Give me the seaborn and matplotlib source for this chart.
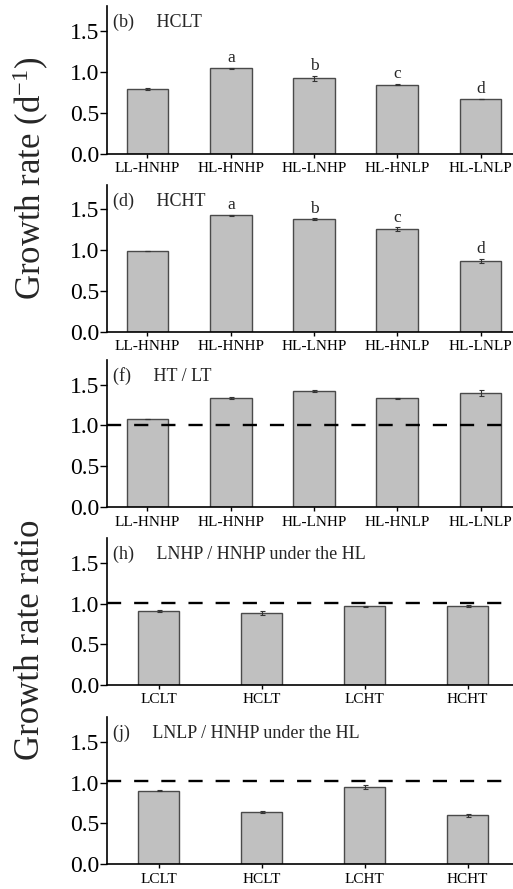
import matplotlib
matplotlib.use("Agg")
import matplotlib.pyplot as plt
import seaborn as sns
import pandas as pd

sns.set_style("ticks")
plt.rcParams["font.family"] = ["Liberation Serif", "DejaVu Serif"]
plt.rcParams["mathtext.fontset"] = "custom"
plt.rcParams["mathtext.rm"] = "Liberation Serif"
plt.rcParams["mathtext.it"] = "Liberation Serif:italic"

# Treatment groups
treatments = ["LL-HNHP", "HL-HNHP", "HL-LNHP", "HL-HNLP", "HL-LNLP"]
conditions = ["LCLT", "HCLT", "LCHT", "HCHT"]

# (b) HCLT growth rate
hclt_rate = [0.79, 1.04, 0.92, 0.845, 0.67]
hclt_err = [0.01, 0.01, 0.03, 0.005, 0.005]
hclt_letters = ["", "a", "b", "c", "d"]

# (d) HCHT growth rate
hcht_rate = [0.99, 1.43, 1.38, 1.26, 0.87]
hcht_err = [0.005, 0.005, 0.01, 0.02, 0.025]
hcht_letters = ["", "a", "b", "c", "d"]

# (f) HT / LT ratio
ht_lt_ratio = [1.08, 1.335, 1.42, 1.33, 1.40]
ht_lt_err = [0.005, 0.01, 0.015, 0.005, 0.035]

# (h) LNHP / HNHP under HL
lnhp_ratio = [0.91, 0.88, 0.965, 0.97]
lnhp_err = [0.01, 0.025, 0.005, 0.01]

# (j) LNLP / HNHP under HL
lnlp_ratio = [0.90, 0.64, 0.945, 0.60]
lnlp_err = [0.005, 0.01, 0.02, 0.015]

W, H = 513, 889
fig = plt.figure(figsize=(W / 100, H / 100), dpi=100)

# (top px, bottom px) of each panel
rows = [(6, 154), (185, 331.7), (360, 507.3), (538.3, 685), (717.3, 864.3)]
left_px = 106.7

panels = [
    dict(cats=treatments, vals=hclt_rate, errs=hclt_err, letters=hclt_letters,
         title="(b)     HCLT", ref=None, width=0.5, xlim=(-0.49, 4.39)),
    dict(cats=treatments, vals=hcht_rate, errs=hcht_err, letters=hcht_letters,
         title="(d)     HCHT", ref=None, width=0.5, xlim=(-0.49, 4.39)),
    dict(cats=treatments, vals=ht_lt_ratio, errs=ht_lt_err, letters=None,
         title="(f)     HT / LT", ref=1.0, width=0.5, xlim=(-0.49, 4.39)),
    dict(cats=conditions, vals=lnhp_ratio, errs=lnhp_err, letters=None,
         title="(h)     LNHP / HNHP under the HL", ref=1.01, width=0.4, xlim=(-0.505, 3.44)),
    dict(cats=conditions, vals=lnlp_ratio, errs=lnlp_err, letters=None,
         title="(j)     LNLP / HNHP under the HL", ref=1.02, width=0.4, xlim=(-0.505, 3.44)),
]

for (top, bot), p in zip(rows, panels):
    ax = fig.add_axes([left_px / W, 1 - bot / H, 1 - left_px / W, (bot - top) / H])
    df = pd.DataFrame({"group": p["cats"], "value": p["vals"]})
    sns.barplot(data=df, x="group", y="value", ax=ax, color="#c0c0c0",
                saturation=1, edgecolor="#4a4a4a", linewidth=1.0,
                width=p["width"], errorbar=None)
    ax.errorbar(range(len(p["vals"])), p["vals"], yerr=p["errs"], fmt="none",
                ecolor="#333333", elinewidth=0.8, capsize=1.8, capthick=0.8, zorder=3)
    if p["letters"]:
        for i, (v, e, t) in enumerate(zip(p["vals"], p["errs"], p["letters"])):
            if t:
                ax.text(i, v + e + 0.02, t, ha="center", va="bottom", fontsize=12.5)
    if p["ref"] is not None:
        ax.axhline(p["ref"], color="black", lw=1.7, ls=(0, (6, 5.5)), zorder=4)
    ax.set_xlim(*p["xlim"])
    ax.set_ylim(0, 1.8)
    ax.set_yticks([0.0, 0.5, 1.0, 1.5])
    ax.set_yticklabels(["0.0", "0.5", "1.0", "1.5"])
    ax.set_xlabel("")
    ax.set_ylabel("")
    ax.tick_params(axis="y", direction="out", length=5, width=1, pad=0.5,
                   labelsize=17, colors="black")
    ax.tick_params(axis="x", direction="out", length=3, width=1, pad=3,
                   labelsize=11, colors="black")
    for s in ["top", "right"]:
        ax.spines[s].set_visible(False)
    for s in ["left", "bottom"]:
        ax.spines[s].set_linewidth(1.2)
        ax.spines[s].set_color("black")
    ax.text(0.015, 0.89, p["title"], transform=ax.transAxes, ha="left",
            va="center", fontsize=13)

fig.text(31 / W, 1 - 178 / H, r"Growth rate (d$^{-1}$)", rotation=90,
         ha="center", va="center", fontsize=25)
fig.text(31 / W, 1 - 640 / H, "Growth rate ratio", rotation=90,
         ha="center", va="center", fontsize=25)

fig.savefig("out.png", dpi=100)
